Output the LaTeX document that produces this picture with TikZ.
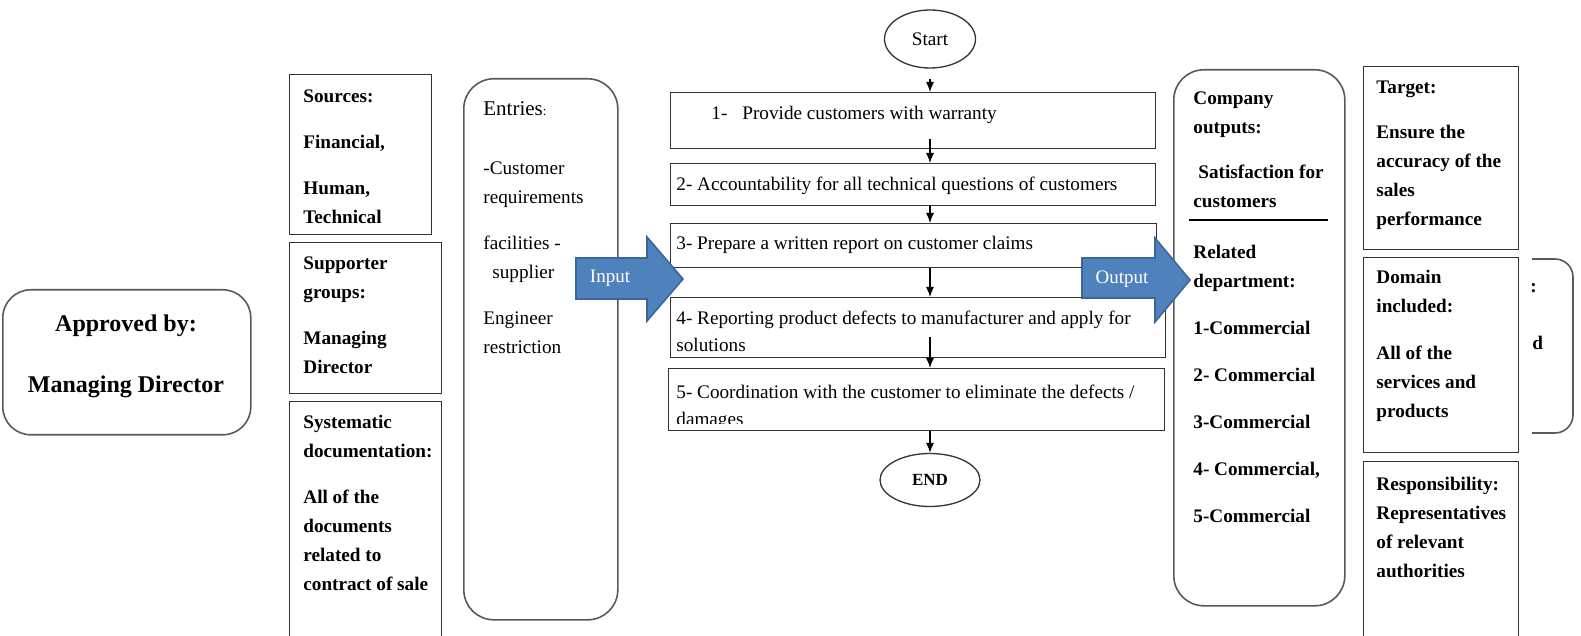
\documentclass[tikz,border=0pt]{standalone}
\usepackage{fontspec}
\setmainfont{Liberation Serif}
\usetikzlibrary{arrows.meta,shapes.geometric}
\definecolor{blockblue}{HTML}{4F81BD}
\definecolor{blockedge}{HTML}{3B6699}

\begin{document}
\begin{tikzpicture}[>={Latex[length=5pt,width=4pt]},x=0.5pt,y=-0.5pt,
    box/.style={draw=black!80,line width=0.65pt,anchor=north west,inner sep=0pt},
    rbox/.style={box,draw=black!65,line width=0.8pt,rounded corners=15pt},
    sidetxt/.style={anchor=north west,inner sep=0pt,align=left,font=\fontsize{9.6}{14.5}\selectfont\bfseries},
    flowtxt/.style={anchor=north west,inner sep=0pt,align=left,font=\fontsize{9.6}{13.75}\selectfont},
    term/.style={draw=black!80,ellipse,line width=0.65pt,inner sep=0pt},
    blockarrow/.style={fill=blockblue,draw=blockedge,line width=0.8pt,line join=miter}]
  \useasboundingbox (0,0) rectangle (1581,636);

  % left side
  \node[rbox,rounded corners=14pt,minimum width=124pt,minimum height=72.5pt] (approved) at (2,289) {};
  \node[font=\fontsize{12}{14.5}\selectfont\bfseries,align=center] (approvedtxt) at (126,356) {Approved by:\\[16pt]Managing Director};

  \node[box,minimum width=71pt,minimum height=80pt] (sources) at (289,74) {};
  \node[sidetxt] (sourcestxt) at (303,89.5) {Sources:\\[8.5pt]Financial,\\[8.5pt]Human,\\Technical};
  \node[box,minimum width=76pt,minimum height=75.5pt] (support) at (289,242) {};
  \node[sidetxt] (supporttxt) at (303,256.5) {Supporter\\groups:\\[8.5pt]Managing\\Director};
  \node[box,minimum width=76pt,minimum height=122.5pt] (docs) at (289,401) {};
  \node[sidetxt] (docstxt) at (303,414.5) {Systematic\\documentation:\\[8.5pt]All of the\\documents\\related to\\contract of sale};

  \node[rbox,minimum width=77pt,minimum height=270.5pt] (entries) at (463,78) {};
  \node[flowtxt,font=\fontsize{9.6}{14.5}\selectfont] (entriestxt) at (483,101.5)
    {{\fontsize{10.5}{14.5}\selectfont Entries}{\fontsize{6.5}{8}\selectfont:}\\[14.75pt]-Customer\\requirements\\[8.5pt]facilities -\\\hspace*{4.5pt}supplier\\[8.5pt]Engineer\\restriction};

  % flow
  \node[term,minimum width=45.5pt,minimum height=29pt,font=\fontsize{9.6}{12}\selectfont] (start) at (930,39) {Start};
  \node[box,minimum width=242.5pt,minimum height=28pt] (task1) at (670,92) {};
  \node[flowtxt] (task1txt) at (711,105.5) {1-\hspace{7.5pt}Provide customers with warranty};
  \node[box,minimum width=242.5pt,minimum height=21pt] (task2) at (670,163) {};
  \node[flowtxt] (task2txt) at (676,176.5) {2- Accountability for all technical questions of customers};
  \node[box,minimum width=243pt,minimum height=22pt] (task3) at (670,223) {};
  \node[flowtxt] (task3txt) at (676,235.5) {3- Prepare a written report on customer claims};
  \node[box,minimum width=247.5pt,minimum height=30pt] (task4) at (670,297) {};
  \node[flowtxt] (task4txt) at (676,310.5) {4- Reporting product defects to manufacturer and apply for\\solutions};
  \node[box,minimum width=248pt,minimum height=31pt] (task5) at (668,368) {};
  \begin{scope}
    \clip ([yshift=-1pt]task5.north west) rectangle ([yshift=4pt]task5.south east);
    \node[flowtxt] (task5txt) at (676,384.5) {5- Coordination with the customer to eliminate the defects /\\damages};
  \end{scope}
  \node[term,minimum width=50pt,minimum height=26.5pt,font=\fontsize{8.5}{10}\selectfont\bfseries] (finish) at (930,480) {END};

  \draw[->,line width=0.6pt,shorten <=5pt] (start) -- (start |- task1.north);
  \draw[->,line width=0.6pt,shorten <=-5pt] (task1.south -| start) -- (start |- task2.north);
  \draw[->,line width=0.6pt] (task2.south -| start) -- (start |- task3.north);
  \draw[->,line width=0.6pt] (task3.south -| start) -- (start |- task4.north);
  \draw[->,line width=0.6pt,shorten <=-10.5pt] (task4.south -| start) -- (start |- task5.north);
  \draw[->,line width=0.6pt] (task5.south -| start) -- (finish);

  % right side
  \node[rbox,minimum width=85.5pt,minimum height=268pt] (outputs) at (1173,69) {};
  \node[sidetxt] (outputstxt) at (1193,91.5) {Company\\outputs:\\[8pt]\hspace*{2.5pt}Satisfaction for\\customers};
  \draw[line width=0.65pt] (1189,220) -- (1328,220);
  \node[sidetxt] (depttxt) at (1193,244.5) {Related\\department:\\[9pt]1-Commercial\\[9pt]2- Commercial\\[9pt]3-Commercial\\[9pt]4- Commercial,\\[9pt]5-Commercial};

  \draw[draw=black!65,line width=0.8pt,rounded corners=9pt] (1532,259) -- (1573,259) -- (1573,433) -- (1532,433);
  \node[sidetxt] (hiddencolon) at (1530,283) {:};
  \node[sidetxt] (hiddend) at (1532,336) {d};

  \node[box,minimum width=77.5pt,minimum height=91.5pt] (target) at (1363,66) {};
  \node[sidetxt] (targettxt) at (1376,80.5) {Target:\\[8pt]Ensure the\\accuracy of the\\sales\\performance};
  \node[box,minimum width=77.5pt,minimum height=97.5pt] (domain) at (1363,257) {};
  \node[sidetxt] (domaintxt) at (1376,269.5) {Domain\\included:\\[9pt]All of the\\services and\\products};
  \node[box,minimum width=77.5pt,minimum height=92.5pt] (resp) at (1363,461) {};
  \node[sidetxt] (resptxt) at (1376,476.5) {Responsibility:\\Representatives\\of relevant\\authorities};

  % block arrows
  \draw[blockarrow] (576,258) -- (647,258) -- (647,237) -- (683,279) -- (647,321) -- (647,299) -- (576,299) -- cycle;
  \node[text=white,font=\fontsize{9.5}{11}\selectfont] (inputtxt) at (610,278) {Input};
  \draw[blockarrow] (1082,258) -- (1155,258) -- (1155,238) -- (1190,280) -- (1155,322) -- (1155,298) -- (1082,298) -- cycle;
  \node[text=white,font=\fontsize{9.5}{11}\selectfont] (outputtxt) at (1122,279) {Output};
\end{tikzpicture}
\end{document}
